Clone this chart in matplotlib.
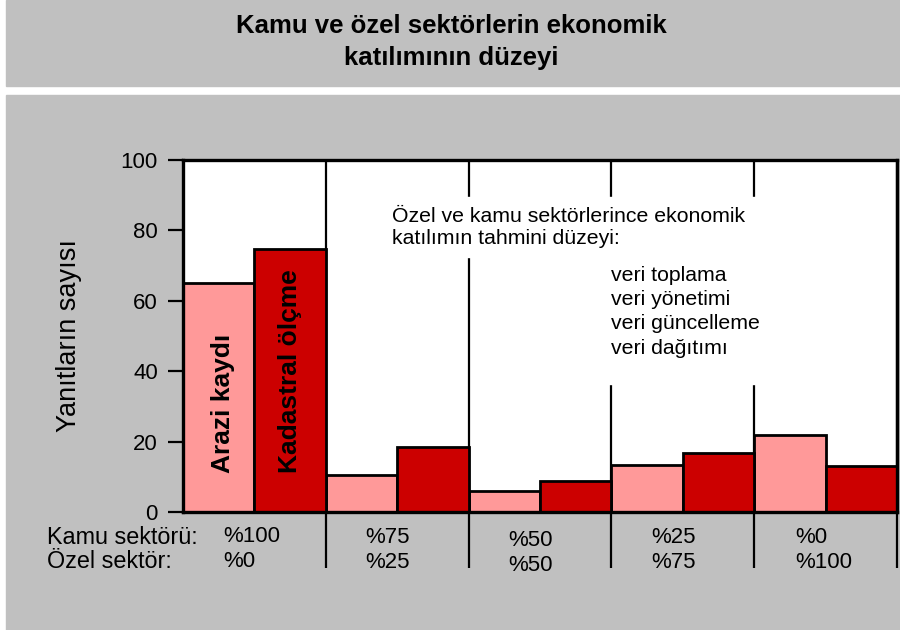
import numpy as np
import matplotlib.pyplot as plt
from matplotlib.patches import Rectangle

plt.rcParams['font.family'] = ['Liberation Sans', 'DejaVu Sans']

# values
kamu_labels = ['%100', '%75', '%50', '%25', '%0']
ozel_labels = ['%0', '%25', '%50', '%75', '%100']
arazi = [65, 10.5, 6, 13.4, 22]
kadastral = [74.6, 18.4, 8.9, 16.7, 13.1]
veri_list = ['veri toplama', 'veri yönetimi', 'veri güncelleme', 'veri dağıtımı']

fig = plt.figure(figsize=(9, 6.3), dpi=100)
gray = '#c0c0c0'
fig.patches.append(Rectangle((6/900, 1-86/630), 894/900, 86/630,
                             transform=fig.transFigure, color=gray, zorder=-10))
fig.patches.append(Rectangle((6/900, 0), 894/900, 1-95/630,
                             transform=fig.transFigure, color=gray, zorder=-10))

fig.text(451/900, 1-42/630, 'Kamu ve özel sektörlerin ekonomik\nkatılımının düzeyi',
         ha='center', va='center', fontsize=18.5, fontweight='bold', linespacing=1.38)

ax = fig.add_axes([183/900, 1-512/630, 714/900, 352/630])
ax.set_facecolor('white')

x = np.arange(len(arazi))
ax.bar(x - 0.25, arazi, 0.5, color='#ff9999', edgecolor='black', lw=2, zorder=2)
ax.bar(x + 0.25, kadastral, 0.5, color='#cc0000', edgecolor='black', lw=2, zorder=2)
ax.set_xlim(-0.5, 4.5)
ax.set_ylim(0, 100)
ax.set_yticks(range(0, 101, 20))
ax.set_xticks([])
ax.tick_params(axis='y', length=11, width=1.6, labelsize=16, pad=7)
for s in ax.spines.values():
    s.set_linewidth(2.4)
    s.set_zorder(5)

# group dividers, running below the axis
ax.vlines(x + 0.5, -16, 100, colors='black', lw=1.6, clip_on=False, zorder=1.5)

ax.set_ylabel('Yanıtların sayısı', fontsize=19.5)
ax.yaxis.set_label_coords(-0.141, 0.5)

# white boxes behind the note
ax.add_patch(Rectangle((0.283, 0.724), 0.525, 0.171, transform=ax.transAxes,
                       color='white', zorder=3))
ax.add_patch(Rectangle((0.584, 0.364), 0.224, 0.362, transform=ax.transAxes,
                       color='white', zorder=3))
ax.text(0.293, 0.809, 'Özel ve kamu sektörlerince ekonomik\nkatılımın tahmini düzeyi:',
        transform=ax.transAxes, ha='left', va='center', fontsize=15.3,
        linespacing=1.18, zorder=4)
ax.text(0.5994, 0.569, '\n'.join(veri_list), transform=ax.transAxes,
        ha='left', va='center', fontsize=15.3, linespacing=1.36, zorder=4)

ax.text(-0.22, 11, 'Arazi kaydı', rotation=90, ha='center', va='bottom',
        fontsize=19, fontweight='bold', zorder=4)
ax.text(0.25, 11, 'Kadastral ölçme', rotation=90, ha='center', va='bottom',
        fontsize=19, fontweight='bold', zorder=4)

# sector share labels under the groups
aligns = ['left', 'center', 'center', 'center', 'left']
dxs = [-0.22, -0.065, -0.065, -0.065, -0.215]
dys = [0.3, 0, -0.8, 0, 0]
for i in range(len(kamu_labels)):
    ax.text(i + dxs[i], -7.2 + dys[i], kamu_labels[i], ha=aligns[i], va='center', fontsize=16)
    ax.text(i + dxs[i], -14.3 + dys[i], ozel_labels[i], ha=aligns[i], va='center', fontsize=16)

fig.text(47/900, 1-537/630, 'Kamu sektörü:', ha='left', va='center', fontsize=16.8)
fig.text(47/900, 1-562/630, 'Özel sektör:', ha='left', va='center', fontsize=16.8)

fig.savefig('out.png', dpi=100, facecolor='white')
